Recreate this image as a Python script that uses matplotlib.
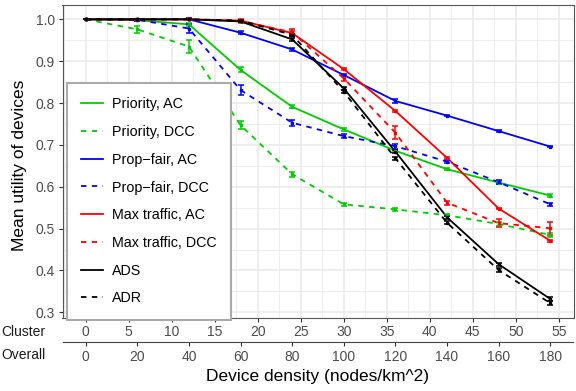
import numpy as np
import matplotlib.pyplot as plt
from matplotlib.lines import Line2D
from matplotlib.ticker import MultipleLocator

plt.rcParams['font.family'] = ['Liberation Sans', 'DejaVu Sans']

# Densidad por cluster (eje principal) y total (eje secundario)
cluster = [0, 6, 12, 18, 24, 30, 36, 42, 48, 54]
overall_ticks = [0, 20, 40, 60, 80, 100, 120, 140, 160, 180]

prio_ac = [1.0, 0.998, 0.988, 0.879, 0.791, 0.737, 0.686, 0.642, 0.610, 0.579]
prio_dcc = [1.0, 0.976, 0.935, 0.747, 0.630, 0.558, 0.546, 0.532, 0.511, 0.485]
pf_ac = [1.0, 1.0, 1.0, 0.968, 0.928, 0.867, 0.805, 0.770, 0.733, 0.696]
pf_dcc = [1.0, 0.999, 0.978, 0.831, 0.753, 0.721, 0.697, 0.660, 0.611, 0.558]
mt_ac = [1.0, 1.0, 1.0, 0.997, 0.967, 0.881, 0.781, 0.669, 0.548, 0.471]
mt_dcc = [1.0, 1.0, 1.0, 0.996, 0.969, 0.859, 0.729, 0.562, 0.513, 0.501]
ads = [1.0, 1.0, 1.0, 0.995, 0.952, 0.835, 0.684, 0.527, 0.415, 0.332]
adr = [1.0, 1.0, 1.0, 0.997, 0.963, 0.827, 0.668, 0.514, 0.401, 0.322]

prio_ac_err = [0, 0.002, 0.004, 0.006, 0.004, 0.003, 0.003, 0.003, 0.003, 0.003]
prio_dcc_err = [0, 0.008, 0.015, 0.010, 0.006, 0.004, 0.003, 0.003, 0.004, 0.004]
pf_ac_err = [0, 0.001, 0.002, 0.004, 0.003, 0.003, 0.004, 0.002, 0.002, 0.002]
pf_dcc_err = [0, 0.002, 0.010, 0.012, 0.007, 0.005, 0.006, 0.004, 0.005, 0.004]
mt_ac_err = [0, 0, 0.001, 0.002, 0.004, 0.003, 0.003, 0.003, 0.002, 0.003]
mt_dcc_err = [0, 0.001, 0.002, 0.004, 0.009, 0.006, 0.016, 0.005, 0.010, 0.016]
ads_err = [0, 0, 0, 0.002, 0.003, 0.003, 0.004, 0.004, 0.004, 0.005]
adr_err = [0, 0, 0, 0.002, 0.003, 0.004, 0.004, 0.004, 0.004, 0.005]

green = '#00CD00'
series = [
    ('Priority, AC', prio_ac, prio_ac_err, green, '-'),
    ('Priority, DCC', prio_dcc, prio_dcc_err, green, '--'),
    ('Prop\u2212fair, AC', pf_ac, pf_ac_err, 'blue', '-'),
    ('Prop\u2212fair, DCC', pf_dcc, pf_dcc_err, 'blue', '--'),
    ('Max traffic, AC', mt_ac, mt_ac_err, 'red', '-'),
    ('Max traffic, DCC', mt_dcc, mt_dcc_err, 'red', '--'),
    ('ADS', ads, ads_err, 'black', '-'),
    ('ADR', adr, adr_err, 'black', '--'),
]

W, H = 576, 391
fig = plt.figure(figsize=(W / 100, H / 100), dpi=100)
left, right, top, bottom = 62.5, 573.5, 5.1, 317.8
ax = fig.add_axes([left / W, 1 - bottom / H, (right - left) / W, (bottom - top) / H])

handles = []
for name, vals, err, col, ls in series:
    dash = (0, (3, 3)) if ls == '--' else '-'
    ax.plot(cluster, vals, color=col, linestyle=dash, lw=1.3, zorder=3)
    ax.errorbar(cluster, vals, yerr=err, fmt='s', ms=2, color=col,
                ecolor=col, elinewidth=1.1, capsize=2.2, capthick=1.1, zorder=4)
    handles.append(Line2D([], [], color=col, linestyle=dash, lw=1.3, label=name))

ax.set_xlim(-2.7, 56.7)
ax.set_ylim(0.287, 1.034)
ax.xaxis.set_major_locator(MultipleLocator(5))
ax.xaxis.set_minor_locator(MultipleLocator(2.5))
ax.yaxis.set_major_locator(MultipleLocator(0.1))
ax.yaxis.set_minor_locator(MultipleLocator(0.05))
ax.yaxis.set_major_formatter(plt.FuncFormatter(lambda v, p: f'{v:.1f}'))

ax.grid(which='major', color='#EBEBEB', lw=1.2, zorder=0)
ax.grid(which='minor', color='#EBEBEB', lw=0.6, zorder=0)
ax.set_axisbelow(True)
for s in ax.spines.values():
    s.set_color('#555555')
    s.set_linewidth(0.8)
ax.tick_params(which='minor', length=0)
ax.tick_params(which='major', length=3, width=0.8, color='#333333',
               labelcolor='#4D4D4D', labelsize=10, pad=2.5)

# Eje secundario con la densidad total
sec = ax.secondary_xaxis((bottom - 342) / (bottom - top),
                         functions=(lambda c: c * 10 / 3, lambda o: o * 3 / 10))
sec.set_xticks(overall_ticks)
sec.spines['bottom'].set_color('#444444')
sec.spines['bottom'].set_linewidth(0.8)
sec.tick_params(length=3, width=0.8, color='#333333', labelcolor='#4D4D4D',
                labelsize=10, pad=2.5)

fig.text(1 / W, 1 - 332 / H, 'Cluster', fontsize=10, color='#1A1A1A', va='center')
fig.text(1 / W, 1 - 355 / H, 'Overall', fontsize=10, color='#1A1A1A', va='center')
fig.text((left + right) / 2 / W, 1 - 377 / H, 'Device density (nodes/km^2)',
         fontsize=12.5, ha='center', va='center')
fig.text(20 / W, 1 - 165 / H, 'Mean utility of devices', fontsize=12.5,
         rotation=90, ha='center', va='center')

leg = ax.legend(handles=handles, loc='upper left',
                bbox_to_anchor=((67 - left) / (right - left), (bottom - 83) / (bottom - top)),
                borderaxespad=0, fontsize=10.3, handlelength=1.55, handletextpad=0.6,
                labelspacing=0.96, borderpad=1.0, fancybox=False, framealpha=1)
leg.get_frame().set_edgecolor('#AAAAAA')
leg.get_frame().set_linewidth(1.5)
leg.set_zorder(5)

fig.savefig('out.png', dpi=100)
